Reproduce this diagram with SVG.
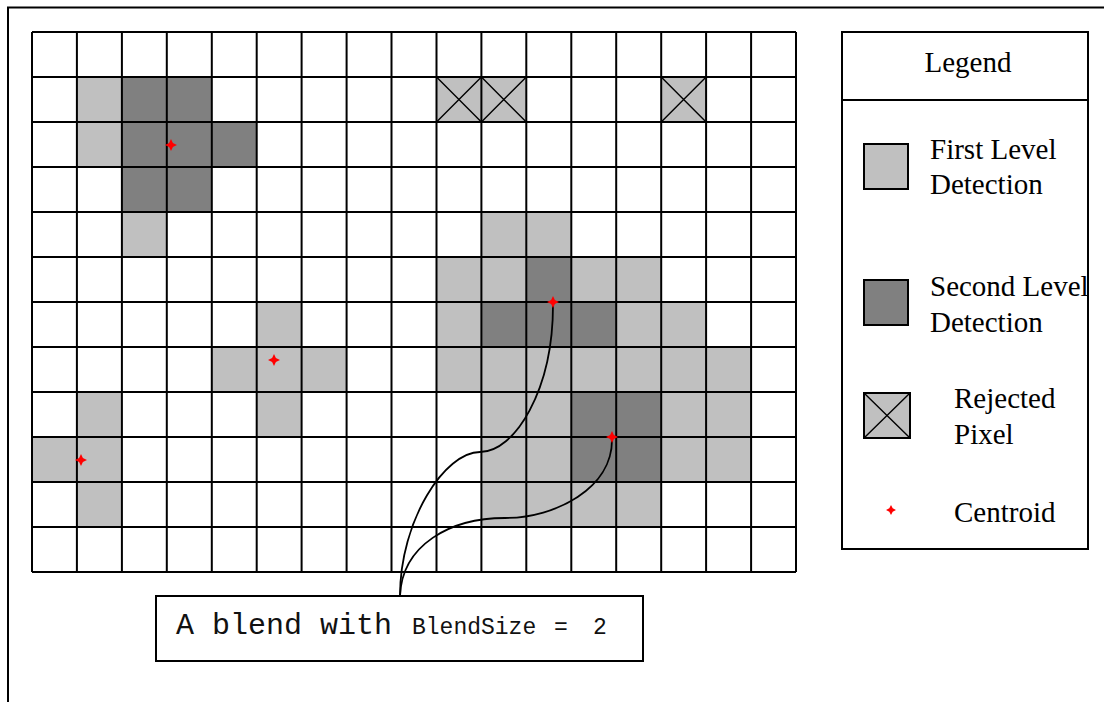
<svg xmlns="http://www.w3.org/2000/svg" xmlns:xlink="http://www.w3.org/1999/xlink" width="1104" height="702" viewBox="0 0 1104 702">
<style>
.l{fill:#c0c0c0}
.d{fill:#808080}
.grid{fill:none;stroke:#000;stroke-width:2}
.x{fill:none;stroke:#000;stroke-width:1.4}
.box{fill:none;stroke:#000;stroke-width:2}
.conn{fill:none;stroke:#000;stroke-width:1.8}
.serif{font-family:"Liberation Serif","Times New Roman",serif;font-size:29px;fill:#000}
.mono{font-family:"Liberation Mono","Courier New",monospace;fill:#111}
.cent{fill:#ff0000}
</style>
<defs>
<path id="star" d="M0,-6 L1.9,-1.9 L6,0 L1.9,1.9 L0,6 L-1.9,1.9 L-6,0 L-1.9,-1.9 Z"/>
<path id="star-small" d="M0,-5 L1.7,-1.7 L5,0 L1.7,1.7 L0,5 L-1.7,1.7 L-5,0 L-1.7,-1.7 Z"/>
</defs>
<rect width="1104" height="702" fill="#fff"/>
<path id="frame" d="M8,702 V7.5 H1104" fill="none" stroke="#000" stroke-width="2"/>

<g id="cells-first-level">
<rect class="l" x="76.9" y="77" width="45" height="45"/>
<rect class="l" x="76.9" y="122" width="45" height="45"/>
<rect class="l" x="121.9" y="212" width="45" height="45"/>
<rect class="l" x="481.4" y="212" width="45" height="45"/>
<rect class="l" x="526.3" y="212" width="45" height="45"/>
<rect class="l" x="436.5" y="257" width="45" height="45"/>
<rect class="l" x="481.4" y="257" width="45" height="45"/>
<rect class="l" x="571.3" y="257" width="45" height="45"/>
<rect class="l" x="616.2" y="257" width="45" height="45"/>
<rect class="l" x="256.7" y="302" width="45" height="45"/>
<rect class="l" x="436.5" y="302" width="45" height="45"/>
<rect class="l" x="616.2" y="302" width="45" height="45"/>
<rect class="l" x="661.2" y="302" width="45" height="45"/>
<rect class="l" x="211.8" y="347" width="135" height="45"/>
<rect class="l" x="436.5" y="347" width="315" height="45"/>
<rect class="l" x="76.9" y="392" width="45" height="45"/>
<rect class="l" x="256.7" y="392" width="45" height="45"/>
<rect class="l" x="481.4" y="392" width="90" height="45"/>
<rect class="l" x="661.2" y="392" width="90" height="45"/>
<rect class="l" x="32" y="437" width="90" height="45"/>
<rect class="l" x="481.4" y="437" width="90" height="45"/>
<rect class="l" x="661.2" y="437" width="90" height="45"/>
<rect class="l" x="76.9" y="482" width="45" height="45"/>
<rect class="l" x="481.4" y="482" width="180" height="45"/>
</g>
<g id="cells-second-level">
<rect class="d" x="121.9" y="77" width="90" height="45"/>
<rect class="d" x="121.9" y="122" width="135" height="45"/>
<rect class="d" x="121.9" y="167" width="90" height="45"/>
<rect class="d" x="526.3" y="257" width="45" height="45"/>
<rect class="d" x="481.4" y="302" width="135" height="45"/>
<rect class="d" x="571.3" y="392" width="90" height="45"/>
<rect class="d" x="571.3" y="437" width="90" height="45"/>
</g>
<g id="cells-rejected">
<rect class="l" x="436.5" y="77" width="90" height="45"/>
<rect class="l" x="661.2" y="77" width="45" height="45"/>
<path class="x" d="M436.5,77 L481.4,122 M481.4,77 L436.5,122 M481.4,77 L526.3,122 M526.3,77 L481.4,122 M661.2,77 L706.1,122 M706.1,77 L661.2,122"/>
</g>
<g id="grid">
<path class="grid" d="M32,32 V572 M76.9,32 V572 M121.9,32 V572 M166.8,32 V572 M211.8,32 V572 M256.7,32 V572 M301.6,32 V572 M346.6,32 V572 M391.5,32 V572 M436.5,32 V572 M481.4,32 V572 M526.3,32 V572 M571.3,32 V572 M616.2,32 V572 M661.2,32 V572 M706.1,32 V572 M751.1,32 V572 M796,32 V572 M32,32 H796 M32,77 H796 M32,122 H796 M32,167 H796 M32,212 H796 M32,257 H796 M32,302 H796 M32,347 H796 M32,392 H796 M32,437 H796 M32,482 H796 M32,527 H796 M32,572 H796"/>
</g>

<g id="connectors">
<path class="conn" d="M553,305 C553,390 515,452 480,452 C445,452 400,520 400,596"/>
<path class="conn" d="M612,440 C612,488 556,518 505,518 C450,518 402,545 400,596"/>
</g>

<g id="centroids">
<use xlink:href="#star" class="cent" x="171" y="145"/>
<use xlink:href="#star" class="cent" x="274" y="360"/>
<use xlink:href="#star" class="cent" x="81" y="460"/>
<use xlink:href="#star" class="cent" x="553" y="302"/>
<use xlink:href="#star" class="cent" x="612" y="437"/>
</g>

<g id="label-blend">
<rect class="box" x="156" y="596" width="487" height="65" fill="#fff"/>
<text class="mono" y="634"><tspan x="176" font-size="30px">A blend with</tspan><tspan x="412" font-size="23px">BlendSize</tspan><tspan x="554" font-size="23px">=</tspan><tspan x="593" font-size="23px">2</tspan></text>
</g>

<g id="legend">
<rect class="box" x="842" y="32" width="246" height="517" fill="#fff"/>
<line x1="842" y1="100" x2="1088" y2="100" stroke="#000" stroke-width="2"/>
<text class="serif" x="968" y="72" text-anchor="middle">Legend</text>
<g id="legend-first">
<rect class="l" x="864" y="144" width="44" height="45" stroke="#000" stroke-width="2"/>
<text class="serif" x="930" y="159">First Level</text>
<text class="serif" x="930" y="194">Detection</text>
</g>
<g id="legend-second">
<rect class="d" x="864" y="280" width="44" height="45" stroke="#000" stroke-width="2"/>
<text class="serif" x="930" y="296">Second Level</text>
<text class="serif" x="930" y="332">Detection</text>
</g>
<g id="legend-rejected">
<rect class="l" x="864" y="393" width="46" height="45" stroke="#000" stroke-width="2"/>
<path class="x" d="M864,393 L910,438 M910,393 L864,438"/>
<text class="serif" x="954" y="408">Rejected</text>
<text class="serif" x="954" y="444">Pixel</text>
</g>
<g id="legend-centroid">
<use xlink:href="#star-small" class="cent" x="891" y="510"/>
<text class="serif" x="954" y="522">Centroid</text>
</g>
</g>
</svg>
